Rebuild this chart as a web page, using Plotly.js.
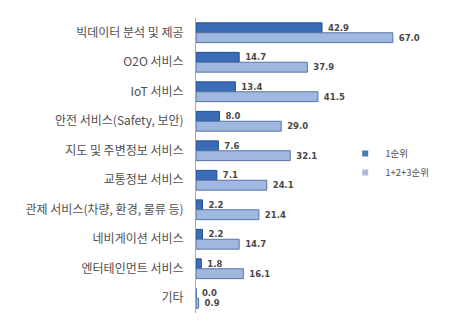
<!DOCTYPE html>
<html><head><meta charset="utf-8">
<script src="https://cdn.plot.ly/plotly-3.0.1.min.js"></script>
<style>html,body{margin:0;padding:0;background:#fff}#c{width:463px;height:333px}</style>
</head><body><div id="c"></div>
<script>
const categories = ['빅데이터 분석 및 제공','O2O 서비스','IoT 서비스','안전 서비스(Safety, 보안)','지도 및 주변정보 서비스','교통정보 서비스','관제 서비스(차량, 환경, 물류 등)','네비게이션 서비스','엔터테인먼트 서비스','기타'];
const rank1 = [42.9,14.7,13.4,8.0,7.6,7.1,2.2,2.2,1.8,0.0];
const rank123 = [67.0,37.9,41.5,29.0,32.1,24.1,21.4,14.7,16.1,0.9];
const seriesNames = ['1순위','1+2+3순위'];
const fmt = a => a.map(v => '\u00a0' + v.toFixed(1));
const font = 'Noto Sans CJK KR, Noto Sans, sans-serif';
const numFont = {size:8.5, color:'#484848', family:'DejaVu Sans', weight:'bold'};
const traces = [
  {type:'bar', orientation:'h', name:seriesNames[0], y:categories, x:rank1, text:fmt(rank1),
   textposition:'outside', constraintext:'none', cliponaxis:false, textfont:numFont,
   marker:{color:'#3a6db5', line:{color:'#22508f', width:1}}, showlegend:false},
  {type:'bar', orientation:'h', name:seriesNames[1], y:categories, x:rank123, text:fmt(rank123),
   textposition:'outside', constraintext:'none', cliponaxis:false, textfont:numFont,
   marker:{color:'#a0b8e0', line:{color:'#5574a6', width:1}}, showlegend:false},
  {type:'scatter', mode:'markers', name:seriesNames[0], x:[null], y:[null],
   marker:{symbol:'square', size:6, color:'#4a78b8'}},
  {type:'scatter', mode:'markers', name:seriesNames[1], x:[null], y:[null],
   marker:{symbol:'square', size:6, color:'#b4b8dc'}}
];
const layout = {
  width:463, height:333, margin:{l:196, r:32, t:18, b:20},
  paper_bgcolor:'#fff', plot_bgcolor:'#fff',
  barmode:'group', bargap:0.33, bargroupgap:0.0,
  showlegend:true,
  legend:{x:0.635, y:0.59, xanchor:'left', yanchor:'top', font:{size:9.5,color:'#505050',family:font},
          bgcolor:'rgba(0,0,0,0)', itemwidth:30, tracegroupgap:0, traceorder:'normal'},
  xaxis:{range:[0,80], showgrid:false, zeroline:false, showticklabels:false, showline:false, ticks:''},
  yaxis:{autorange:'reversed', showgrid:false, zeroline:false, showline:true, linecolor:'#aaa', linewidth:1,
         ticks:'', ticklabelstandoff:9, tickfont:{size:12,color:'#505050',family:font}}
};
Plotly.newPlot('c', traces, layout, {staticPlot:true, displayModeBar:false});
</script></body></html>
